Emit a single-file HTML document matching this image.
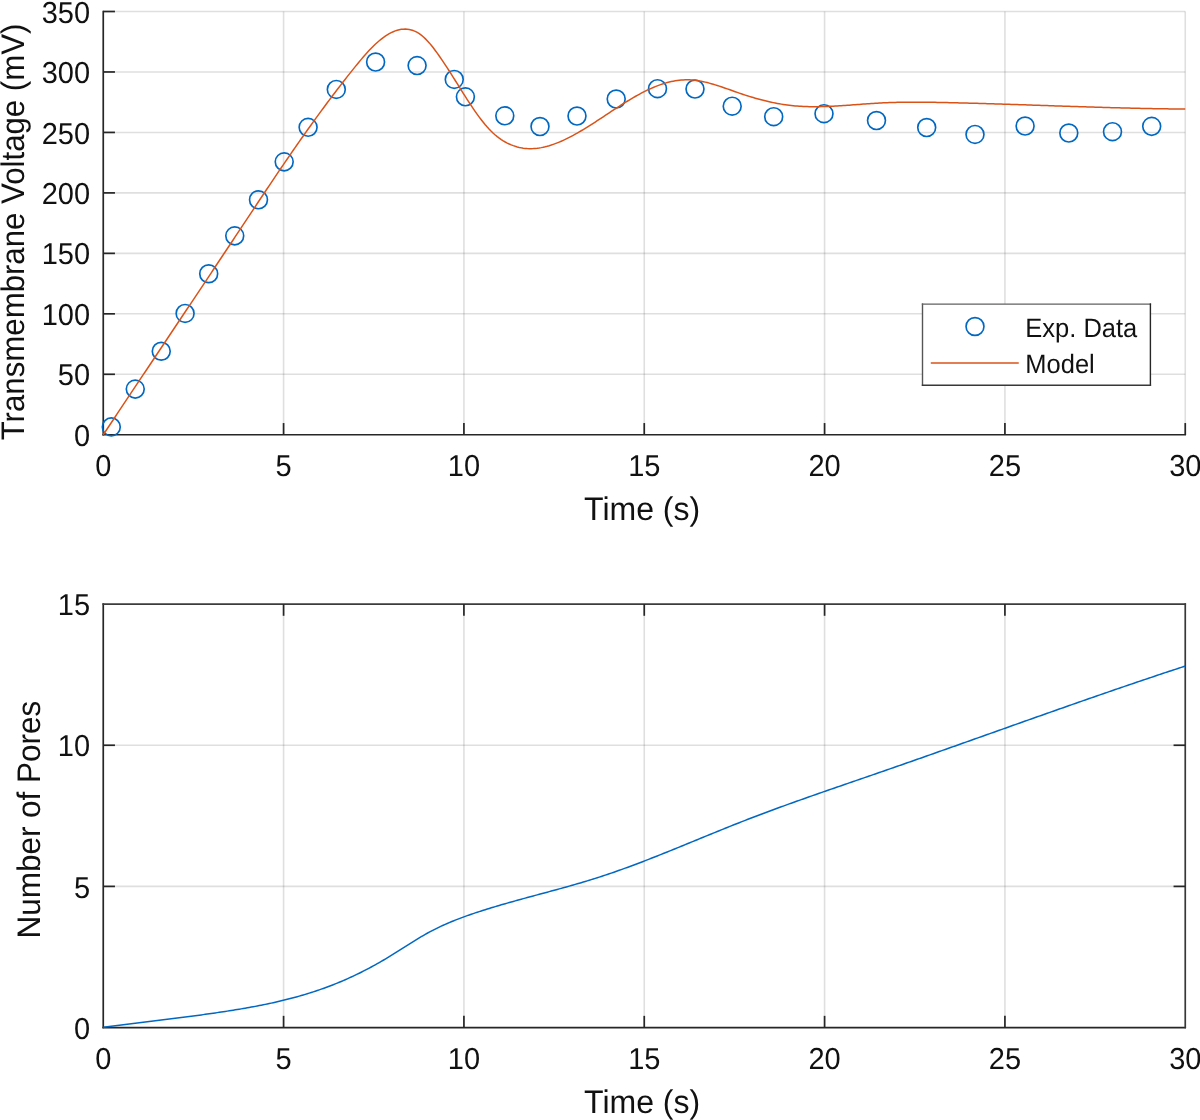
<!DOCTYPE html>
<html><head><meta charset="utf-8"><style>
html,body{margin:0;padding:0;background:#fff;width:1200px;height:1120px;overflow:hidden}
svg{display:block}
text{font-family:"Liberation Sans",sans-serif;fill:#111;text-rendering:geometricPrecision}
.tk{font-size:29px}
.lb{font-size:32px}
.lg{font-size:25.5px}
</style></head><body>
<svg width="1200" height="1120" viewBox="0 0 1200 1120">
<defs><filter id="gs" x="-5%" y="-20%" width="110%" height="140%"><feColorMatrix type="identity"/></filter></defs>
<rect width="1200" height="1120" fill="#fff"/>
<line x1="283.58" y1="11.5" x2="283.58" y2="434.75" stroke="#262626" stroke-opacity="0.15" stroke-width="1.6"/>
<line x1="463.92" y1="11.5" x2="463.92" y2="434.75" stroke="#262626" stroke-opacity="0.15" stroke-width="1.6"/>
<line x1="644.25" y1="11.5" x2="644.25" y2="434.75" stroke="#262626" stroke-opacity="0.15" stroke-width="1.6"/>
<line x1="824.58" y1="11.5" x2="824.58" y2="434.75" stroke="#262626" stroke-opacity="0.15" stroke-width="1.6"/>
<line x1="1004.92" y1="11.5" x2="1004.92" y2="434.75" stroke="#262626" stroke-opacity="0.15" stroke-width="1.6"/>
<line x1="1185.25" y1="11.5" x2="1185.25" y2="434.75" stroke="#262626" stroke-opacity="0.15" stroke-width="1.6"/>
<line x1="103.25" y1="374.29" x2="1185.25" y2="374.29" stroke="#262626" stroke-opacity="0.15" stroke-width="1.6"/>
<line x1="103.25" y1="313.82" x2="1185.25" y2="313.82" stroke="#262626" stroke-opacity="0.15" stroke-width="1.6"/>
<line x1="103.25" y1="253.36" x2="1185.25" y2="253.36" stroke="#262626" stroke-opacity="0.15" stroke-width="1.6"/>
<line x1="103.25" y1="192.89" x2="1185.25" y2="192.89" stroke="#262626" stroke-opacity="0.15" stroke-width="1.6"/>
<line x1="103.25" y1="132.43" x2="1185.25" y2="132.43" stroke="#262626" stroke-opacity="0.15" stroke-width="1.6"/>
<line x1="103.25" y1="71.96" x2="1185.25" y2="71.96" stroke="#262626" stroke-opacity="0.15" stroke-width="1.6"/>
<line x1="103.25" y1="11.50" x2="1185.25" y2="11.50" stroke="#262626" stroke-opacity="0.15" stroke-width="1.6"/>
<line x1="103.25" y1="10.7" x2="103.25" y2="435.55" stroke="#262626" stroke-width="1.7"/>
<line x1="102.45" y1="434.75" x2="1186.05" y2="434.75" stroke="#262626" stroke-width="1.7"/>
<line x1="283.58" y1="434.75" x2="283.58" y2="423.05" stroke="#262626" stroke-width="1.7"/>
<line x1="463.92" y1="434.75" x2="463.92" y2="423.05" stroke="#262626" stroke-width="1.7"/>
<line x1="644.25" y1="434.75" x2="644.25" y2="423.05" stroke="#262626" stroke-width="1.7"/>
<line x1="824.58" y1="434.75" x2="824.58" y2="423.05" stroke="#262626" stroke-width="1.7"/>
<line x1="1004.92" y1="434.75" x2="1004.92" y2="423.05" stroke="#262626" stroke-width="1.7"/>
<line x1="1185.25" y1="434.75" x2="1185.25" y2="423.05" stroke="#262626" stroke-width="1.7"/>
<line x1="103.25" y1="374.29" x2="114.95" y2="374.29" stroke="#262626" stroke-width="1.7"/>
<line x1="103.25" y1="313.82" x2="114.95" y2="313.82" stroke="#262626" stroke-width="1.7"/>
<line x1="103.25" y1="253.36" x2="114.95" y2="253.36" stroke="#262626" stroke-width="1.7"/>
<line x1="103.25" y1="192.89" x2="114.95" y2="192.89" stroke="#262626" stroke-width="1.7"/>
<line x1="103.25" y1="132.43" x2="114.95" y2="132.43" stroke="#262626" stroke-width="1.7"/>
<line x1="103.25" y1="71.96" x2="114.95" y2="71.96" stroke="#262626" stroke-width="1.7"/>
<line x1="103.25" y1="11.50" x2="114.95" y2="11.50" stroke="#262626" stroke-width="1.7"/>
<g filter="url(#gs)"><text transform="translate(103.25,476.35) scale(1.0000,1.0450)" text-anchor="middle" class="tk">0</text></g>
<g filter="url(#gs)"><text transform="translate(283.58,476.35) scale(1.0000,1.0450)" text-anchor="middle" class="tk">5</text></g>
<g filter="url(#gs)"><text transform="translate(463.92,476.35) scale(1.0000,1.0450)" text-anchor="middle" class="tk">10</text></g>
<g filter="url(#gs)"><text transform="translate(644.25,476.35) scale(1.0000,1.0450)" text-anchor="middle" class="tk">15</text></g>
<g filter="url(#gs)"><text transform="translate(824.58,476.35) scale(1.0000,1.0450)" text-anchor="middle" class="tk">20</text></g>
<g filter="url(#gs)"><text transform="translate(1004.92,476.35) scale(1.0000,1.0450)" text-anchor="middle" class="tk">25</text></g>
<g filter="url(#gs)"><text transform="translate(1185.25,476.35) scale(1.0000,1.0450)" text-anchor="middle" class="tk">30</text></g>
<g filter="url(#gs)"><text transform="translate(90.10,445.85) scale(1.0000,1.0450)" text-anchor="end" class="tk">0</text></g>
<g filter="url(#gs)"><text transform="translate(90.10,385.39) scale(1.0000,1.0450)" text-anchor="end" class="tk">50</text></g>
<g filter="url(#gs)"><text transform="translate(90.10,324.92) scale(1.0000,1.0450)" text-anchor="end" class="tk">100</text></g>
<g filter="url(#gs)"><text transform="translate(90.10,264.46) scale(1.0000,1.0450)" text-anchor="end" class="tk">150</text></g>
<g filter="url(#gs)"><text transform="translate(90.10,203.99) scale(1.0000,1.0450)" text-anchor="end" class="tk">200</text></g>
<g filter="url(#gs)"><text transform="translate(90.10,143.53) scale(1.0000,1.0450)" text-anchor="end" class="tk">250</text></g>
<g filter="url(#gs)"><text transform="translate(90.10,83.06) scale(1.0000,1.0450)" text-anchor="end" class="tk">300</text></g>
<g filter="url(#gs)"><text transform="translate(90.10,22.60) scale(1.0000,1.0450)" text-anchor="end" class="tk">350</text></g>
<circle cx="111.3" cy="426.9" r="8.95" fill="none" stroke="#0068C2" stroke-width="1.65"/>
<circle cx="135.25" cy="389.1" r="8.95" fill="none" stroke="#0068C2" stroke-width="1.65"/>
<circle cx="161.25" cy="351.25" r="8.95" fill="none" stroke="#0068C2" stroke-width="1.65"/>
<circle cx="185.1" cy="313.45" r="8.95" fill="none" stroke="#0068C2" stroke-width="1.65"/>
<circle cx="208.7" cy="273.75" r="8.95" fill="none" stroke="#0068C2" stroke-width="1.65"/>
<circle cx="234.75" cy="235.85" r="8.95" fill="none" stroke="#0068C2" stroke-width="1.65"/>
<circle cx="258.5" cy="199.75" r="8.95" fill="none" stroke="#0068C2" stroke-width="1.65"/>
<circle cx="284.2" cy="161.85" r="8.95" fill="none" stroke="#0068C2" stroke-width="1.65"/>
<circle cx="308.1" cy="127.3" r="8.95" fill="none" stroke="#0068C2" stroke-width="1.65"/>
<circle cx="336.3" cy="89.4" r="8.95" fill="none" stroke="#0068C2" stroke-width="1.65"/>
<circle cx="375.6" cy="62.0" r="8.95" fill="none" stroke="#0068C2" stroke-width="1.65"/>
<circle cx="417.1" cy="65.55" r="8.95" fill="none" stroke="#0068C2" stroke-width="1.65"/>
<circle cx="454.25" cy="79.45" r="8.95" fill="none" stroke="#0068C2" stroke-width="1.65"/>
<circle cx="465.4" cy="96.8" r="8.95" fill="none" stroke="#0068C2" stroke-width="1.65"/>
<circle cx="504.8" cy="115.8" r="8.95" fill="none" stroke="#0068C2" stroke-width="1.65"/>
<circle cx="540.0" cy="126.5" r="8.95" fill="none" stroke="#0068C2" stroke-width="1.65"/>
<circle cx="577.0" cy="116.0" r="8.95" fill="none" stroke="#0068C2" stroke-width="1.65"/>
<circle cx="616.2" cy="99.0" r="8.95" fill="none" stroke="#0068C2" stroke-width="1.65"/>
<circle cx="657.5" cy="88.7" r="8.95" fill="none" stroke="#0068C2" stroke-width="1.65"/>
<circle cx="695.0" cy="89.0" r="8.95" fill="none" stroke="#0068C2" stroke-width="1.65"/>
<circle cx="732.2" cy="106.2" r="8.95" fill="none" stroke="#0068C2" stroke-width="1.65"/>
<circle cx="773.7" cy="116.7" r="8.95" fill="none" stroke="#0068C2" stroke-width="1.65"/>
<circle cx="824.0" cy="113.7" r="8.95" fill="none" stroke="#0068C2" stroke-width="1.65"/>
<circle cx="876.5" cy="120.5" r="8.95" fill="none" stroke="#0068C2" stroke-width="1.65"/>
<circle cx="926.7" cy="127.5" r="8.95" fill="none" stroke="#0068C2" stroke-width="1.65"/>
<circle cx="975.0" cy="134.45" r="8.95" fill="none" stroke="#0068C2" stroke-width="1.65"/>
<circle cx="1025.1" cy="126.0" r="8.95" fill="none" stroke="#0068C2" stroke-width="1.65"/>
<circle cx="1068.8" cy="133.0" r="8.95" fill="none" stroke="#0068C2" stroke-width="1.65"/>
<circle cx="1112.5" cy="131.65" r="8.95" fill="none" stroke="#0068C2" stroke-width="1.65"/>
<circle cx="1151.7" cy="126.35" r="8.95" fill="none" stroke="#0068C2" stroke-width="1.65"/>
<path d="M103.25,434.75 L105.25,431.74 L107.25,428.73 L109.25,425.73 L111.25,422.72 L113.25,419.71 L115.25,416.71 L117.25,413.70 L119.25,410.70 L121.25,407.70 L123.25,404.70 L125.25,401.69 L127.25,398.69 L129.25,395.69 L131.25,392.69 L133.25,389.69 L135.25,386.69 L137.25,383.70 L139.25,380.70 L141.25,377.70 L143.25,374.70 L145.25,371.71 L147.25,368.71 L149.25,365.71 L151.25,362.72 L153.25,359.72 L155.25,356.72 L157.25,353.73 L159.25,350.73 L161.25,347.74 L163.25,344.74 L165.25,341.75 L167.25,338.75 L169.25,335.76 L171.25,332.76 L173.25,329.77 L175.25,326.77 L177.25,323.78 L179.25,320.78 L181.25,317.78 L183.25,314.79 L185.25,311.79 L187.25,308.79 L189.25,305.80 L191.25,302.80 L193.25,299.80 L195.25,296.80 L197.25,293.80 L199.25,290.81 L201.25,287.81 L203.25,284.81 L205.25,281.80 L207.25,278.80 L209.25,275.80 L211.25,272.80 L213.25,269.79 L215.25,266.79 L217.25,263.79 L219.25,260.78 L221.25,257.77 L223.25,254.77 L225.25,251.76 L227.25,248.75 L229.25,245.74 L231.25,242.73 L233.25,239.72 L235.25,236.70 L237.25,233.69 L239.25,230.68 L241.25,227.66 L243.25,224.64 L245.25,221.62 L247.25,218.61 L249.25,215.59 L251.25,212.57 L253.25,209.56 L255.25,206.55 L257.25,203.54 L259.25,200.53 L261.25,197.53 L263.25,194.53 L265.25,191.53 L267.25,188.54 L269.25,185.55 L271.25,182.57 L273.25,179.59 L275.25,176.62 L277.25,173.66 L279.25,170.70 L281.25,167.76 L283.25,164.82 L285.25,161.88 L287.25,158.96 L289.25,156.05 L291.25,153.15 L293.25,150.25 L295.25,147.37 L297.25,144.50 L299.25,141.64 L301.25,138.79 L303.25,135.95 L305.25,133.12 L307.25,130.30 L309.25,127.50 L311.25,124.71 L313.25,121.93 L315.25,119.16 L317.25,116.40 L319.25,113.66 L321.25,110.93 L323.25,108.21 L325.25,105.50 L327.25,102.81 L329.25,100.13 L331.25,97.47 L333.25,94.82 L335.25,92.18 L337.25,89.56 L339.25,86.95 L341.25,84.35 L343.25,81.78 L345.25,79.21 L347.25,76.66 L349.25,74.13 L351.25,71.61 L353.25,69.11 L355.25,66.63 L357.25,64.17 L359.25,61.75 L361.25,59.36 L363.25,57.02 L365.25,54.74 L367.25,52.51 L369.25,50.35 L371.25,48.26 L373.25,46.25 L375.25,44.32 L377.25,42.48 L379.25,40.74 L381.25,39.11 L383.25,37.58 L385.25,36.16 L387.25,34.86 L389.25,33.68 L391.25,32.63 L393.25,31.70 L395.25,30.90 L397.25,30.25 L399.25,29.73 L401.25,29.36 L403.25,29.14 L405.25,29.09 L407.25,29.19 L409.25,29.47 L411.25,29.93 L413.25,30.57 L415.25,31.41 L417.25,32.43 L419.25,33.66 L421.25,35.10 L423.25,36.75 L425.25,38.61 L427.25,40.66 L429.25,42.89 L431.25,45.27 L433.25,47.79 L435.25,50.43 L437.25,53.17 L439.25,56.00 L441.25,58.90 L443.25,61.85 L445.25,64.85 L447.25,67.90 L449.25,71.00 L451.25,74.13 L453.25,77.30 L455.25,80.49 L457.25,83.69 L459.25,86.90 L461.25,90.10 L463.25,93.29 L465.25,96.45 L467.25,99.58 L469.25,102.67 L471.25,105.70 L473.25,108.67 L475.25,111.58 L477.25,114.40 L479.25,117.14 L481.25,119.78 L483.25,122.32 L485.25,124.75 L487.25,127.06 L489.25,129.24 L491.25,131.29 L493.25,133.19 L495.25,134.97 L497.25,136.61 L499.25,138.14 L501.25,139.54 L503.25,140.82 L505.25,142.00 L507.25,143.06 L509.25,144.03 L511.25,144.89 L513.25,145.66 L515.25,146.33 L517.25,146.92 L519.25,147.41 L521.25,147.82 L523.25,148.15 L525.25,148.39 L527.25,148.55 L529.25,148.63 L531.25,148.64 L533.25,148.57 L535.25,148.44 L537.25,148.23 L539.25,147.96 L541.25,147.62 L543.25,147.23 L545.25,146.77 L547.25,146.25 L549.25,145.68 L551.25,145.06 L553.25,144.38 L555.25,143.66 L557.25,142.89 L559.25,142.07 L561.25,141.22 L563.25,140.32 L565.25,139.39 L567.25,138.42 L569.25,137.41 L571.25,136.37 L573.25,135.31 L575.25,134.21 L577.25,133.08 L579.25,131.93 L581.25,130.76 L583.25,129.56 L585.25,128.34 L587.25,127.11 L589.25,125.85 L591.25,124.59 L593.25,123.30 L595.25,122.01 L597.25,120.71 L599.25,119.40 L601.25,118.09 L603.25,116.77 L605.25,115.44 L607.25,114.12 L609.25,112.80 L611.25,111.48 L613.25,110.17 L615.25,108.86 L617.25,107.56 L619.25,106.27 L621.25,104.99 L623.25,103.73 L625.25,102.48 L627.25,101.24 L629.25,100.03 L631.25,98.83 L633.25,97.66 L635.25,96.51 L637.25,95.38 L639.25,94.29 L641.25,93.21 L643.25,92.17 L645.25,91.16 L647.25,90.18 L649.25,89.24 L651.25,88.33 L653.25,87.46 L655.25,86.62 L657.25,85.83 L659.25,85.08 L661.25,84.38 L663.25,83.72 L665.25,83.10 L667.25,82.54 L669.25,82.02 L671.25,81.56 L673.25,81.15 L675.25,80.79 L677.25,80.49 L679.25,80.24 L681.25,80.05 L683.25,79.92 L685.25,79.84 L687.25,79.82 L689.25,79.86 L691.25,79.96 L693.25,80.11 L695.25,80.33 L697.25,80.59 L699.25,80.91 L701.25,81.27 L703.25,81.67 L705.25,82.12 L707.25,82.60 L709.25,83.12 L711.25,83.67 L713.25,84.25 L715.25,84.85 L717.25,85.48 L719.25,86.13 L721.25,86.80 L723.25,87.48 L725.25,88.17 L727.25,88.87 L729.25,89.58 L731.25,90.29 L733.25,91.00 L735.25,91.71 L737.25,92.41 L739.25,93.10 L741.25,93.78 L743.25,94.45 L745.25,95.11 L747.25,95.75 L749.25,96.38 L751.25,96.99 L753.25,97.59 L755.25,98.17 L757.25,98.74 L759.25,99.29 L761.25,99.82 L763.25,100.34 L765.25,100.83 L767.25,101.31 L769.25,101.78 L771.25,102.22 L773.25,102.64 L775.25,103.05 L777.25,103.43 L779.25,103.79 L781.25,104.13 L783.25,104.45 L785.25,104.75 L787.25,105.03 L789.25,105.28 L791.25,105.51 L793.25,105.72 L795.25,105.91 L797.25,106.07 L799.25,106.21 L801.25,106.33 L803.25,106.44 L805.25,106.52 L807.25,106.59 L809.25,106.64 L811.25,106.67 L813.25,106.69 L815.25,106.70 L817.25,106.68 L819.25,106.66 L821.25,106.62 L823.25,106.57 L825.25,106.51 L827.25,106.44 L829.25,106.36 L831.25,106.27 L833.25,106.17 L835.25,106.06 L837.25,105.94 L839.25,105.82 L841.25,105.69 L843.25,105.56 L845.25,105.43 L847.25,105.28 L849.25,105.14 L851.25,104.99 L853.25,104.85 L855.25,104.70 L857.25,104.55 L859.25,104.39 L861.25,104.25 L863.25,104.10 L865.25,103.95 L867.25,103.81 L869.25,103.67 L871.25,103.53 L873.25,103.40 L875.25,103.28 L877.25,103.16 L879.25,103.05 L881.25,102.94 L883.25,102.85 L885.25,102.76 L887.25,102.67 L889.25,102.60 L891.25,102.53 L893.25,102.47 L895.25,102.41 L897.25,102.36 L899.25,102.32 L901.25,102.28 L903.25,102.25 L905.25,102.22 L907.25,102.20 L909.25,102.19 L911.25,102.18 L913.25,102.17 L915.25,102.17 L917.25,102.17 L919.25,102.18 L921.25,102.19 L923.25,102.20 L925.25,102.22 L927.25,102.24 L929.25,102.26 L931.25,102.29 L933.25,102.32 L935.25,102.35 L937.25,102.39 L939.25,102.43 L941.25,102.47 L943.25,102.51 L945.25,102.55 L947.25,102.59 L949.25,102.64 L951.25,102.68 L953.25,102.73 L955.25,102.78 L957.25,102.83 L959.25,102.88 L961.25,102.93 L963.25,102.98 L965.25,103.03 L967.25,103.08 L969.25,103.14 L971.25,103.19 L973.25,103.25 L975.25,103.30 L977.25,103.36 L979.25,103.42 L981.25,103.47 L983.25,103.53 L985.25,103.59 L987.25,103.65 L989.25,103.71 L991.25,103.77 L993.25,103.83 L995.25,103.89 L997.25,103.96 L999.25,104.02 L1001.25,104.08 L1003.25,104.15 L1005.25,104.21 L1007.25,104.27 L1009.25,104.34 L1011.25,104.40 L1013.25,104.47 L1015.25,104.54 L1017.25,104.60 L1019.25,104.67 L1021.25,104.73 L1023.25,104.80 L1025.25,104.87 L1027.25,104.93 L1029.25,105.00 L1031.25,105.07 L1033.25,105.14 L1035.25,105.20 L1037.25,105.27 L1039.25,105.34 L1041.25,105.41 L1043.25,105.47 L1045.25,105.54 L1047.25,105.61 L1049.25,105.68 L1051.25,105.74 L1053.25,105.81 L1055.25,105.88 L1057.25,105.95 L1059.25,106.01 L1061.25,106.08 L1063.25,106.15 L1065.25,106.21 L1067.25,106.28 L1069.25,106.35 L1071.25,106.41 L1073.25,106.48 L1075.25,106.54 L1077.25,106.61 L1079.25,106.67 L1081.25,106.74 L1083.25,106.80 L1085.25,106.86 L1087.25,106.92 L1089.25,106.99 L1091.25,107.05 L1093.25,107.11 L1095.25,107.17 L1097.25,107.23 L1099.25,107.29 L1101.25,107.35 L1103.25,107.41 L1105.25,107.47 L1107.25,107.53 L1109.25,107.58 L1111.25,107.64 L1113.25,107.69 L1115.25,107.75 L1117.25,107.80 L1119.25,107.86 L1121.25,107.91 L1123.25,107.96 L1125.25,108.01 L1127.25,108.06 L1129.25,108.11 L1131.25,108.16 L1133.25,108.21 L1135.25,108.25 L1137.25,108.30 L1139.25,108.34 L1141.25,108.39 L1143.25,108.43 L1145.25,108.47 L1147.25,108.51 L1149.25,108.55 L1151.25,108.59 L1153.25,108.63 L1155.25,108.66 L1157.25,108.70 L1159.25,108.73 L1161.25,108.76 L1163.25,108.79 L1165.25,108.82 L1167.25,108.85 L1169.25,108.88 L1171.25,108.91 L1173.25,108.93 L1175.25,108.96 L1177.25,108.98 L1179.25,109.00 L1181.25,109.02 L1183.25,109.04 L1185.25,109.06" fill="none" stroke="#D95319" stroke-width="1.5" stroke-linejoin="round"/>
<rect x="922.5" y="304.1" width="227.9" height="81.2" fill="#fff"/>
<line x1="922.5" y1="303.4" x2="922.5" y2="386.0" stroke="#555" stroke-width="1.4"/>
<line x1="921.8" y1="304.1" x2="1151.1" y2="304.1" stroke="#606060" stroke-width="1.4"/>
<line x1="1150.4" y1="303.4" x2="1150.4" y2="386.0" stroke="#262626" stroke-width="1.4"/>
<line x1="921.8" y1="385.3" x2="1151.1" y2="385.3" stroke="#383838" stroke-width="1.4"/>
<circle cx="975" cy="326.5" r="8.95" fill="none" stroke="#0068C2" stroke-width="1.65"/>
<line x1="930.8" y1="362.9" x2="1018.75" y2="362.9" stroke="#D95319" stroke-width="1.5"/>
<g filter="url(#gs)"><text transform="translate(1025.30,336.90) scale(1.0000,1.0400)" text-anchor="start" class="lg">Exp. Data</text></g>
<g filter="url(#gs)"><text transform="translate(1025.30,373.40) scale(1.0000,1.0400)" text-anchor="start" class="lg">Model</text></g>
<g filter="url(#gs)"><text transform="translate(584.05,519.50) scale(1.0000,1.0200)" text-anchor="start" class="lb">Time (s)</text></g>
<g filter="url(#gs)"><text transform="translate(24.30,440.30) rotate(-90) scale(0.9750,1.0200)" text-anchor="start" class="lb">Transmembrane Voltage (mV)</text></g>
<line x1="283.58" y1="604.1" x2="283.58" y2="1027.55" stroke="#262626" stroke-opacity="0.15" stroke-width="1.6"/>
<line x1="463.92" y1="604.1" x2="463.92" y2="1027.55" stroke="#262626" stroke-opacity="0.15" stroke-width="1.6"/>
<line x1="644.25" y1="604.1" x2="644.25" y2="1027.55" stroke="#262626" stroke-opacity="0.15" stroke-width="1.6"/>
<line x1="824.58" y1="604.1" x2="824.58" y2="1027.55" stroke="#262626" stroke-opacity="0.15" stroke-width="1.6"/>
<line x1="1004.92" y1="604.1" x2="1004.92" y2="1027.55" stroke="#262626" stroke-opacity="0.15" stroke-width="1.6"/>
<line x1="103.25" y1="886.40" x2="1185.25" y2="886.40" stroke="#262626" stroke-opacity="0.15" stroke-width="1.6"/>
<line x1="103.25" y1="745.25" x2="1185.25" y2="745.25" stroke="#262626" stroke-opacity="0.15" stroke-width="1.6"/>
<line x1="103.25" y1="603.3000000000001" x2="103.25" y2="1028.35" stroke="#262626" stroke-width="1.7"/>
<line x1="102.45" y1="1027.55" x2="1186.05" y2="1027.55" stroke="#262626" stroke-width="1.7"/>
<line x1="1185.25" y1="603.3000000000001" x2="1185.25" y2="1028.35" stroke="#383838" stroke-width="1.7"/>
<line x1="102.45" y1="604.1" x2="1186.05" y2="604.1" stroke="#3c3c3c" stroke-width="1.7"/>
<line x1="283.58" y1="1027.55" x2="283.58" y2="1015.8499999999999" stroke="#262626" stroke-width="1.7"/>
<line x1="283.58" y1="604.1" x2="283.58" y2="615.8000000000001" stroke="#262626" stroke-width="1.7"/>
<line x1="463.92" y1="1027.55" x2="463.92" y2="1015.8499999999999" stroke="#262626" stroke-width="1.7"/>
<line x1="463.92" y1="604.1" x2="463.92" y2="615.8000000000001" stroke="#262626" stroke-width="1.7"/>
<line x1="644.25" y1="1027.55" x2="644.25" y2="1015.8499999999999" stroke="#262626" stroke-width="1.7"/>
<line x1="644.25" y1="604.1" x2="644.25" y2="615.8000000000001" stroke="#262626" stroke-width="1.7"/>
<line x1="824.58" y1="1027.55" x2="824.58" y2="1015.8499999999999" stroke="#262626" stroke-width="1.7"/>
<line x1="824.58" y1="604.1" x2="824.58" y2="615.8000000000001" stroke="#262626" stroke-width="1.7"/>
<line x1="1004.92" y1="1027.55" x2="1004.92" y2="1015.8499999999999" stroke="#262626" stroke-width="1.7"/>
<line x1="1004.92" y1="604.1" x2="1004.92" y2="615.8000000000001" stroke="#262626" stroke-width="1.7"/>
<line x1="103.25" y1="886.40" x2="114.95" y2="886.40" stroke="#262626" stroke-width="1.7"/>
<line x1="1185.25" y1="886.40" x2="1173.55" y2="886.40" stroke="#262626" stroke-width="1.7"/>
<line x1="103.25" y1="745.25" x2="114.95" y2="745.25" stroke="#262626" stroke-width="1.7"/>
<line x1="1185.25" y1="745.25" x2="1173.55" y2="745.25" stroke="#262626" stroke-width="1.7"/>
<g filter="url(#gs)"><text transform="translate(103.25,1069.15) scale(1.0000,1.0450)" text-anchor="middle" class="tk">0</text></g>
<g filter="url(#gs)"><text transform="translate(283.58,1069.15) scale(1.0000,1.0450)" text-anchor="middle" class="tk">5</text></g>
<g filter="url(#gs)"><text transform="translate(463.92,1069.15) scale(1.0000,1.0450)" text-anchor="middle" class="tk">10</text></g>
<g filter="url(#gs)"><text transform="translate(644.25,1069.15) scale(1.0000,1.0450)" text-anchor="middle" class="tk">15</text></g>
<g filter="url(#gs)"><text transform="translate(824.58,1069.15) scale(1.0000,1.0450)" text-anchor="middle" class="tk">20</text></g>
<g filter="url(#gs)"><text transform="translate(1004.92,1069.15) scale(1.0000,1.0450)" text-anchor="middle" class="tk">25</text></g>
<g filter="url(#gs)"><text transform="translate(1185.25,1069.15) scale(1.0000,1.0450)" text-anchor="middle" class="tk">30</text></g>
<g filter="url(#gs)"><text transform="translate(90.10,1038.65) scale(1.0000,1.0450)" text-anchor="end" class="tk">0</text></g>
<g filter="url(#gs)"><text transform="translate(90.10,897.50) scale(1.0000,1.0450)" text-anchor="end" class="tk">5</text></g>
<g filter="url(#gs)"><text transform="translate(90.10,756.35) scale(1.0000,1.0450)" text-anchor="end" class="tk">10</text></g>
<g filter="url(#gs)"><text transform="translate(90.10,615.20) scale(1.0000,1.0450)" text-anchor="end" class="tk">15</text></g>
<path d="M103.25,1027.32 L105.25,1027.06 L107.25,1026.80 L109.25,1026.54 L111.25,1026.28 L113.25,1026.02 L115.25,1025.76 L117.25,1025.51 L119.25,1025.25 L121.25,1025.00 L123.25,1024.75 L125.25,1024.50 L127.25,1024.25 L129.25,1024.00 L131.25,1023.75 L133.25,1023.50 L135.25,1023.25 L137.25,1023.01 L139.25,1022.76 L141.25,1022.51 L143.25,1022.27 L145.25,1022.02 L147.25,1021.77 L149.25,1021.53 L151.25,1021.28 L153.25,1021.04 L155.25,1020.79 L157.25,1020.54 L159.25,1020.30 L161.25,1020.05 L163.25,1019.80 L165.25,1019.55 L167.25,1019.31 L169.25,1019.06 L171.25,1018.80 L173.25,1018.55 L175.25,1018.30 L177.25,1018.05 L179.25,1017.79 L181.25,1017.54 L183.25,1017.28 L185.25,1017.02 L187.25,1016.76 L189.25,1016.50 L191.25,1016.23 L193.25,1015.97 L195.25,1015.70 L197.25,1015.43 L199.25,1015.16 L201.25,1014.89 L203.25,1014.62 L205.25,1014.34 L207.25,1014.06 L209.25,1013.78 L211.25,1013.49 L213.25,1013.21 L215.25,1012.92 L217.25,1012.63 L219.25,1012.33 L221.25,1012.04 L223.25,1011.74 L225.25,1011.43 L227.25,1011.13 L229.25,1010.82 L231.25,1010.50 L233.25,1010.18 L235.25,1009.86 L237.25,1009.54 L239.25,1009.20 L241.25,1008.87 L243.25,1008.53 L245.25,1008.18 L247.25,1007.83 L249.25,1007.47 L251.25,1007.11 L253.25,1006.74 L255.25,1006.37 L257.25,1005.99 L259.25,1005.60 L261.25,1005.20 L263.25,1004.80 L265.25,1004.39 L267.25,1003.97 L269.25,1003.55 L271.25,1003.12 L273.25,1002.68 L275.25,1002.23 L277.25,1001.77 L279.25,1001.31 L281.25,1000.83 L283.25,1000.35 L285.25,999.85 L287.25,999.35 L289.25,998.84 L291.25,998.32 L293.25,997.78 L295.25,997.24 L297.25,996.69 L299.25,996.13 L301.25,995.55 L303.25,994.96 L305.25,994.37 L307.25,993.76 L309.25,993.14 L311.25,992.51 L313.25,991.86 L315.25,991.20 L317.25,990.53 L319.25,989.85 L321.25,989.16 L323.25,988.45 L325.25,987.73 L327.25,986.99 L329.25,986.24 L331.25,985.48 L333.25,984.70 L335.25,983.91 L337.25,983.10 L339.25,982.28 L341.25,981.44 L343.25,980.59 L345.25,979.72 L347.25,978.84 L349.25,977.94 L351.25,977.03 L353.25,976.10 L355.25,975.15 L357.25,974.19 L359.25,973.21 L361.25,972.21 L363.25,971.20 L365.25,970.18 L367.25,969.13 L369.25,968.08 L371.25,967.00 L373.25,965.91 L375.25,964.81 L377.25,963.69 L379.25,962.55 L381.25,961.40 L383.25,960.24 L385.25,959.06 L387.25,957.86 L389.25,956.65 L391.25,955.42 L393.25,954.18 L395.25,952.93 L397.25,951.67 L399.25,950.41 L401.25,949.14 L403.25,947.86 L405.25,946.59 L407.25,945.32 L409.25,944.06 L411.25,942.80 L413.25,941.55 L415.25,940.31 L417.25,939.09 L419.25,937.89 L421.25,936.70 L423.25,935.53 L425.25,934.39 L427.25,933.28 L429.25,932.19 L431.25,931.12 L433.25,930.09 L435.25,929.08 L437.25,928.09 L439.25,927.12 L441.25,926.18 L443.25,925.26 L445.25,924.36 L447.25,923.49 L449.25,922.63 L451.25,921.79 L453.25,920.97 L455.25,920.16 L457.25,919.38 L459.25,918.60 L461.25,917.85 L463.25,917.11 L465.25,916.38 L467.25,915.66 L469.25,914.96 L471.25,914.27 L473.25,913.59 L475.25,912.91 L477.25,912.25 L479.25,911.60 L481.25,910.95 L483.25,910.31 L485.25,909.68 L487.25,909.05 L489.25,908.43 L491.25,907.82 L493.25,907.21 L495.25,906.61 L497.25,906.02 L499.25,905.42 L501.25,904.84 L503.25,904.26 L505.25,903.68 L507.25,903.11 L509.25,902.54 L511.25,901.97 L513.25,901.41 L515.25,900.85 L517.25,900.30 L519.25,899.74 L521.25,899.19 L523.25,898.65 L525.25,898.10 L527.25,897.56 L529.25,897.01 L531.25,896.47 L533.25,895.93 L535.25,895.39 L537.25,894.85 L539.25,894.32 L541.25,893.78 L543.25,893.24 L545.25,892.70 L547.25,892.16 L549.25,891.62 L551.25,891.08 L553.25,890.54 L555.25,889.99 L557.25,889.45 L559.25,888.90 L561.25,888.35 L563.25,887.79 L565.25,887.24 L567.25,886.68 L569.25,886.11 L571.25,885.55 L573.25,884.98 L575.25,884.40 L577.25,883.83 L579.25,883.24 L581.25,882.66 L583.25,882.06 L585.25,881.47 L587.25,880.86 L589.25,880.25 L591.25,879.64 L593.25,879.02 L595.25,878.39 L597.25,877.76 L599.25,877.12 L601.25,876.47 L603.25,875.81 L605.25,875.15 L607.25,874.48 L609.25,873.80 L611.25,873.12 L613.25,872.43 L615.25,871.74 L617.25,871.04 L619.25,870.33 L621.25,869.62 L623.25,868.90 L625.25,868.17 L627.25,867.44 L629.25,866.71 L631.25,865.97 L633.25,865.22 L635.25,864.47 L637.25,863.72 L639.25,862.96 L641.25,862.20 L643.25,861.43 L645.25,860.66 L647.25,859.88 L649.25,859.10 L651.25,858.32 L653.25,857.54 L655.25,856.75 L657.25,855.96 L659.25,855.16 L661.25,854.36 L663.25,853.56 L665.25,852.76 L667.25,851.95 L669.25,851.15 L671.25,850.34 L673.25,849.53 L675.25,848.71 L677.25,847.90 L679.25,847.08 L681.25,846.27 L683.25,845.45 L685.25,844.63 L687.25,843.81 L689.25,842.99 L691.25,842.17 L693.25,841.34 L695.25,840.52 L697.25,839.70 L699.25,838.88 L701.25,838.06 L703.25,837.24 L705.25,836.41 L707.25,835.59 L709.25,834.78 L711.25,833.96 L713.25,833.14 L715.25,832.32 L717.25,831.51 L719.25,830.70 L721.25,829.89 L723.25,829.08 L725.25,828.27 L727.25,827.47 L729.25,826.66 L731.25,825.86 L733.25,825.07 L735.25,824.27 L737.25,823.48 L739.25,822.69 L741.25,821.91 L743.25,821.13 L745.25,820.35 L747.25,819.57 L749.25,818.80 L751.25,818.03 L753.25,817.27 L755.25,816.50 L757.25,815.74 L759.25,814.98 L761.25,814.23 L763.25,813.48 L765.25,812.73 L767.25,811.98 L769.25,811.24 L771.25,810.50 L773.25,809.76 L775.25,809.02 L777.25,808.29 L779.25,807.55 L781.25,806.82 L783.25,806.10 L785.25,805.37 L787.25,804.65 L789.25,803.92 L791.25,803.21 L793.25,802.49 L795.25,801.77 L797.25,801.06 L799.25,800.34 L801.25,799.63 L803.25,798.92 L805.25,798.22 L807.25,797.51 L809.25,796.80 L811.25,796.10 L813.25,795.40 L815.25,794.70 L817.25,794.00 L819.25,793.30 L821.25,792.60 L823.25,791.90 L825.25,791.21 L827.25,790.51 L829.25,789.82 L831.25,789.13 L833.25,788.43 L835.25,787.74 L837.25,787.05 L839.25,786.36 L841.25,785.67 L843.25,784.98 L845.25,784.29 L847.25,783.60 L849.25,782.91 L851.25,782.22 L853.25,781.54 L855.25,780.85 L857.25,780.16 L859.25,779.47 L861.25,778.78 L863.25,778.09 L865.25,777.41 L867.25,776.72 L869.25,776.03 L871.25,775.34 L873.25,774.65 L875.25,773.96 L877.25,773.27 L879.25,772.58 L881.25,771.88 L883.25,771.19 L885.25,770.50 L887.25,769.80 L889.25,769.11 L891.25,768.41 L893.25,767.72 L895.25,767.02 L897.25,766.32 L899.25,765.63 L901.25,764.93 L903.25,764.23 L905.25,763.53 L907.25,762.83 L909.25,762.13 L911.25,761.43 L913.25,760.73 L915.25,760.03 L917.25,759.33 L919.25,758.62 L921.25,757.92 L923.25,757.22 L925.25,756.51 L927.25,755.81 L929.25,755.11 L931.25,754.40 L933.25,753.70 L935.25,752.99 L937.25,752.28 L939.25,751.58 L941.25,750.87 L943.25,750.16 L945.25,749.46 L947.25,748.75 L949.25,748.04 L951.25,747.33 L953.25,746.63 L955.25,745.92 L957.25,745.21 L959.25,744.50 L961.25,743.79 L963.25,743.08 L965.25,742.37 L967.25,741.66 L969.25,740.95 L971.25,740.24 L973.25,739.53 L975.25,738.83 L977.25,738.11 L979.25,737.40 L981.25,736.69 L983.25,735.98 L985.25,735.27 L987.25,734.56 L989.25,733.85 L991.25,733.14 L993.25,732.43 L995.25,731.72 L997.25,731.01 L999.25,730.30 L1001.25,729.59 L1003.25,728.88 L1005.25,728.17 L1007.25,727.46 L1009.25,726.75 L1011.25,726.04 L1013.25,725.33 L1015.25,724.62 L1017.25,723.91 L1019.25,723.20 L1021.25,722.50 L1023.25,721.79 L1025.25,721.08 L1027.25,720.37 L1029.25,719.66 L1031.25,718.95 L1033.25,718.25 L1035.25,717.54 L1037.25,716.83 L1039.25,716.12 L1041.25,715.42 L1043.25,714.71 L1045.25,714.00 L1047.25,713.30 L1049.25,712.59 L1051.25,711.89 L1053.25,711.18 L1055.25,710.48 L1057.25,709.78 L1059.25,709.07 L1061.25,708.37 L1063.25,707.67 L1065.25,706.96 L1067.25,706.26 L1069.25,705.56 L1071.25,704.86 L1073.25,704.16 L1075.25,703.46 L1077.25,702.76 L1079.25,702.06 L1081.25,701.36 L1083.25,700.66 L1085.25,699.97 L1087.25,699.27 L1089.25,698.57 L1091.25,697.88 L1093.25,697.18 L1095.25,696.49 L1097.25,695.79 L1099.25,695.10 L1101.25,694.41 L1103.25,693.72 L1105.25,693.03 L1107.25,692.34 L1109.25,691.65 L1111.25,690.96 L1113.25,690.27 L1115.25,689.58 L1117.25,688.89 L1119.25,688.21 L1121.25,687.52 L1123.25,686.84 L1125.25,686.15 L1127.25,685.47 L1129.25,684.79 L1131.25,684.11 L1133.25,683.43 L1135.25,682.75 L1137.25,682.07 L1139.25,681.39 L1141.25,680.71 L1143.25,680.04 L1145.25,679.36 L1147.25,678.69 L1149.25,678.01 L1151.25,677.34 L1153.25,676.67 L1155.25,676.00 L1157.25,675.33 L1159.25,674.66 L1161.25,673.99 L1163.25,673.33 L1165.25,672.66 L1167.25,672.00 L1169.25,671.33 L1171.25,670.67 L1173.25,670.01 L1175.25,669.35 L1177.25,668.69 L1179.25,668.03 L1181.25,667.37 L1183.25,666.72 L1185.25,666.06" fill="none" stroke="#0068C2" stroke-width="1.5" stroke-linejoin="round"/>
<g filter="url(#gs)"><text transform="translate(584.05,1112.50) scale(1.0000,1.0200)" text-anchor="start" class="lb">Time (s)</text></g>
<g filter="url(#gs)"><text transform="translate(40.00,938.50) rotate(-90) scale(0.9830,1.0200)" text-anchor="start" class="lb">Number of Pores</text></g>
</svg>
</body></html>
